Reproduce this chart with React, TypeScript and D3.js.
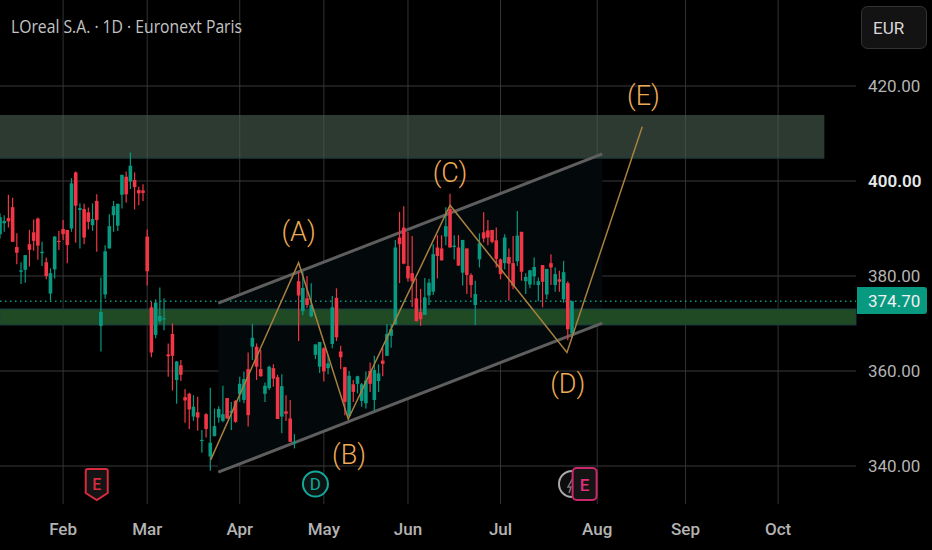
import { useEffect, useRef } from "react";
import * as d3 from "d3";

// daily candles
const opens = [
  388.8, 391.1, 392.2, 394.5, 386.1, 380.9, 381.3, 386.7, 389.2, 392.1,
  384.8, 382.9, 376.3, 381.4, 387.4, 389.9, 389.7, 390.0, 401.8, 393.9,
  394.1, 393.4, 390.7, 395.8, 369.5, 376.1, 385.8, 392.8, 390.6, 397.1,
  400.9, 399.9, 400.2, 398.1, 398.0, 388.3, 373.4, 367.6, 370.5, 370.9,
  363.5, 367.8, 358.1, 361.2, 354.5, 355.2, 350.4, 351.3, 345.3, 350.9,
  342.0, 346.3, 350.2, 349.5, 354.3, 351.2, 353.7, 355.1, 353.9, 360.4,
  365.1, 365.1, 360.4, 355.2, 356.4, 360.6, 358.7, 350.4, 351.5, 350.0,
  344.8, 378.9, 372.6, 375.3, 371.5, 363.4, 360.9, 364.8, 360.6, 365.7,
  375.4, 364.1, 360.8, 350.5, 357.2, 357.3, 353.7, 353.2, 360.0, 353.9,
  357.9, 362.2, 363.2, 367.4, 369.8, 388.1, 390.2, 382.1, 380.6, 375.3,
  372.4, 371.8, 375.9, 376.7, 386.0, 385.8, 388.3, 394.1, 386.1, 386.0,
  380.7, 385.8, 380.2, 373.9, 383.5, 389.2, 389.6, 389.7, 387.5, 383.5,
  382.7, 384.0, 382.7, 383.1, 389.3, 378.9, 378.2, 379.9, 378.1, 382.3,
  376.1, 382.7, 378.1, 379.3, 375.1, 378.5, 367.9,
];
const closes = [
  392.4, 391.6, 391.5, 387.2, 384.9, 381.2, 384.4, 385.5, 387.4, 386.4,
  385.1, 380.0, 380.6, 388.3, 387.2, 388.8, 386.5, 399.5, 394.8, 394.3,
  388.1, 391.4, 392.0, 391.8, 372.4, 385.2, 390.5, 394.7, 395.2, 401.3,
  397.2, 403.2, 398.7, 397.4, 397.5, 381.0, 363.9, 374.4, 371.6, 371.1,
  363.1, 363.2, 362.0, 359.2, 353.8, 351.9, 352.5, 350.2, 345.5, 347.8,
  344.9, 348.4, 352.0, 350.9, 350.0, 351.6, 349.3, 357.3, 358.3, 350.7,
  367.0, 360.9, 358.9, 356.9, 360.9, 358.4, 349.9, 356.8, 351.0, 345.1,
  345.1, 375.9, 377.5, 373.9, 373.9, 365.6, 366.1, 359.9, 361.6, 373.4,
  367.1, 362.9, 353.5, 359.0, 355.6, 358.9, 357.2, 358.0, 357.3, 360.2,
  359.5, 361.5, 367.8, 368.8, 386.0, 386.7, 382.6, 379.5, 378.9, 370.5,
  370.9, 375.5, 378.6, 384.6, 384.2, 383.3, 390.5, 386.0, 386.4, 382.2,
  387.6, 380.2, 378.1, 376.2, 386.9, 387.9, 388.1, 387.2, 383.6, 380.4,
  388.1, 382.6, 377.9, 388.5, 380.9, 379.8, 381.2, 381.9, 378.9, 378.8,
  381.5, 381.8, 380.4, 378.8, 380.8, 368.8, 374.7,
];
const highs = [
  393.2, 392.8, 397.1, 396.5, 389.0, 382.9, 384.4, 389.7, 391.9, 392.3,
  387.2, 383.9, 381.6, 388.4, 389.5, 391.8, 389.7, 400.6, 402.0, 395.3,
  395.2, 394.4, 395.3, 397.2, 379.7, 386.5, 393.0, 395.8, 395.2, 401.3,
  402.0, 406.0, 401.8, 398.8, 399.3, 389.8, 374.6, 375.1, 377.6, 375.3,
  365.8, 370.0, 362.1, 362.3, 356.2, 355.4, 354.9, 354.6, 347.6, 351.1,
  356.5, 352.1, 352.6, 356.9, 354.3, 353.5, 353.9, 358.8, 359.9, 363.9,
  369.9, 365.8, 364.4, 357.6, 361.1, 361.4, 359.2, 359.3, 354.9, 353.9,
  346.7, 380.9, 380.9, 380.0, 378.5, 365.6, 366.1, 365.0, 363.4, 375.8,
  377.4, 365.3, 360.9, 360.0, 358.1, 359.0, 357.5, 359.9, 361.8, 363.2,
  361.4, 365.0, 369.9, 369.9, 387.6, 393.5, 394.7, 389.3, 388.4, 379.5,
  377.3, 379.6, 379.4, 386.7, 388.6, 388.6, 394.5, 397.3, 388.6, 388.6,
  387.6, 385.8, 380.6, 379.0, 389.0, 393.4, 391.8, 389.7, 390.2, 383.7,
  388.8, 385.8, 388.4, 393.7, 389.3, 380.6, 381.3, 383.9, 379.7, 382.3,
  381.5, 384.6, 381.8, 381.1, 383.2, 378.9, 374.8,
];
const lows = [
  387.9, 389.3, 390.2, 387.2, 382.5, 378.3, 378.6, 382.0, 385.3, 383.4,
  382.1, 379.3, 374.8, 379.5, 385.5, 387.6, 382.7, 389.3, 387.0, 385.8,
  386.7, 389.8, 389.5, 385.1, 364.1, 375.2, 385.8, 389.3, 389.5, 394.2,
  395.4, 398.3, 394.0, 394.9, 395.8, 378.0, 362.9, 366.9, 370.0, 368.6,
  358.8, 355.9, 353.1, 357.9, 349.1, 347.8, 349.5, 347.4, 342.8, 346.0,
  339.0, 346.2, 349.1, 349.2, 349.9, 347.6, 349.1, 353.5, 353.2, 348.3,
  362.3, 358.1, 358.8, 353.5, 356.0, 356.7, 349.9, 346.9, 349.5, 345.1,
  343.7, 366.3, 371.8, 373.3, 371.3, 362.5, 359.6, 357.8, 359.3, 364.8,
  366.3, 360.4, 350.7, 350.4, 353.5, 355.3, 352.5, 352.1, 355.6, 351.6,
  355.6, 358.9, 363.2, 364.9, 369.7, 378.5, 382.5, 378.8, 373.5, 370.4,
  369.5, 371.8, 373.9, 376.0, 379.5, 383.2, 386.5, 386.0, 383.5, 382.1,
  378.0, 376.2, 375.4, 369.7, 381.8, 387.1, 386.5, 386.9, 381.8, 379.3,
  381.4, 374.8, 377.2, 382.1, 379.0, 376.2, 377.4, 378.1, 374.7, 373.4,
  375.1, 378.1, 376.7, 376.7, 374.4, 366.5, 367.0,
];

const priceTicks = [340, 360, 380, 400, 420];
const monthLabels = ["Feb", "Mar", "Apr", "May", "Jun", "Jul", "Aug", "Sep", "Oct"];
const monthBars = [15, 35, 57, 77, 97, 119, 142, 163, 185];
const lastPrice = 374.7;

// hand drawn things on the chart, in bar index / price
const waveBars = [50.1, 71, 82.8, 107, 134.8, 152.7];
const wavePrices = [341.3, 382.8, 349.9, 394.9, 363.9, 411.4];
const waveLabels = ["(A)", "(B)", "(C)", "(D)", "(E)"];
const waveLabelBars = [71, 83, 107, 135, 153];
const waveLabelPrices = [387.3, 340.4, 399.7, 355.4, 416];
const channelBars = [51.9, 143.2];
const channelUpper = [374.3, 405.7];
const channelLower = [338.7, 370.1];
const resistanceZone = [404.8, 413.9];
const supportZone = [369.7, 373.05];
const resistanceEndBar = 196;

const GREEN = "#089981";
const RED = "#f23645";
const FONT = "Roboto, sans-serif";

const App = () => {
  const ref = useRef<SVGSVGElement | null>(null);

  useEffect(() => {
    const svg = d3.select(ref.current);
    svg.selectAll("*").remove();

    const plotRight = 856;
    const x = d3.scaleLinear().domain([0, 136]).range([0, 572]);
    const y = d3.scaleLinear().domain([340, 420]).range([466, 86]);

    svg.append("rect").attr("width", 932).attr("height", 550).attr("fill", "#000");

    // grid
    svg
      .selectAll(".vgrid")
      .data(monthBars)
      .enter()
      .append("line")
      .attr("x1", (d) => x(d))
      .attr("x2", (d) => x(d))
      .attr("y1", 0)
      .attr("y2", 504)
      .attr("stroke", "#333")
      .attr("stroke-width", 1);
    svg
      .selectAll(".hgrid")
      .data(priceTicks)
      .enter()
      .append("line")
      .attr("x1", 0)
      .attr("x2", plotRight)
      .attr("y1", (d) => y(d))
      .attr("y2", (d) => y(d))
      .attr("stroke", "#3a3a3a")
      .attr("stroke-width", 1);

    // channel fill
    svg
      .append("path")
      .attr(
        "d",
        d3.line()([
          [x(channelBars[0]), y(channelUpper[0])],
          [x(channelBars[1]), y(channelUpper[1])],
          [x(channelBars[1]), y(channelLower[1])],
          [x(channelBars[0]), y(channelLower[0])],
        ]) + "Z"
      )
      .attr("fill", "#03080b");

    // zones
    svg
      .append("rect")
      .attr("x", 0)
      .attr("width", x(resistanceEndBar))
      .attr("y", y(resistanceZone[1]))
      .attr("height", y(resistanceZone[0]) - y(resistanceZone[1]))
      .attr("fill", "#4a6051")
      .attr("fill-opacity", 0.6);
    svg
      .append("line")
      .attr("x1", 0)
      .attr("x2", x(resistanceEndBar))
      .attr("y1", y(resistanceZone[0]))
      .attr("y2", y(resistanceZone[0]))
      .attr("stroke", "#1c3a3e");
    svg
      .append("rect")
      .attr("x", 0)
      .attr("width", plotRight)
      .attr("y", y(supportZone[1]))
      .attr("height", y(supportZone[0]) - y(supportZone[1]))
      .attr("fill", "#204a24")
      .attr("stroke", "#1c3f44");

    // last price line
    svg
      .append("line")
      .attr("x1", 0)
      .attr("x2", plotRight)
      .attr("y1", y(lastPrice))
      .attr("y2", y(lastPrice))
      .attr("stroke", GREEN)
      .attr("stroke-width", 1.5)
      .attr("stroke-dasharray", "1.5 3.5");

    // channel lines
    [channelUpper, channelLower].forEach((prices) => {
      svg
        .append("line")
        .attr("x1", x(channelBars[0]))
        .attr("x2", x(channelBars[1]))
        .attr("y1", y(prices[0]))
        .attr("y2", y(prices[1]))
        .attr("stroke", "#5e5e5e")
        .attr("stroke-width", 3);
    });

    // candles
    const bars = svg
      .selectAll(".bar")
      .data(d3.range(opens.length))
      .enter()
      .append("g")
      .attr("fill", (i) => (closes[i] >= opens[i] ? GREEN : RED))
      .attr("stroke", (i) => (closes[i] >= opens[i] ? GREEN : RED));
    bars
      .append("line")
      .attr("x1", (i) => x(i))
      .attr("x2", (i) => x(i))
      .attr("y1", (i) => y(highs[i]))
      .attr("y2", (i) => y(lows[i]))
      .attr("stroke-width", 1.2);
    bars
      .append("rect")
      .attr("x", (i) => x(i) - 1.8)
      .attr("width", 3.6)
      .attr("y", (i) => y(Math.max(opens[i], closes[i])))
      .attr("height", (i) => Math.max(1.2, Math.abs(y(opens[i]) - y(closes[i]))))
      .attr("stroke", "none");

    // wave path
    const wave = d3
      .line<number>()
      .x((i) => x(waveBars[i]))
      .y((i) => y(wavePrices[i]));
    svg
      .append("path")
      .attr("d", wave(d3.range(waveBars.length)))
      .attr("fill", "none")
      .attr("stroke", "#a9803f")
      .attr("stroke-width", 1.5);

    svg
      .selectAll(".wavelabel")
      .data(waveLabels)
      .enter()
      .append("text")
      .attr("x", (d, i) => x(waveLabelBars[i]))
      .attr("y", (d, i) => y(waveLabelPrices[i]))
      .attr("text-anchor", "middle")
      .attr("font-family", FONT)
      .attr("font-weight", 300)
      .attr("font-size", 27)
      .attr("fill", "#eeaa55")
      .text((d) => d);

    // axes text
    svg
      .selectAll(".ptick")
      .data(priceTicks)
      .enter()
      .append("text")
      .attr("x", 868)
      .attr("y", (d) => y(d) + 6)
      .attr("font-family", FONT)
      .attr("font-size", 17)
      .attr("font-weight", (d) => (d === 400 ? 600 : 400))
      .attr("fill", (d) => (d === 400 ? "#e8e8e8" : "#b4b4b4"))
      .text((d) => d.toFixed(2));
    svg
      .selectAll(".mtick")
      .data(monthLabels)
      .enter()
      .append("text")
      .attr("x", (d, i) => x(monthBars[i]))
      .attr("y", 535)
      .attr("text-anchor", "middle")
      .attr("font-family", FONT)
      .attr("font-size", 17)
      .attr("font-weight", 500)
      .attr("fill", "#b4b4b4")
      .text((d) => d);

    // last price tag
    svg
      .append("path")
      .attr("d", `M857,287 H924 Q927,287 927,290 V311 Q927,314 924,314 H857 Z`)
      .attr("fill", GREEN);
    svg
      .append("text")
      .attr("x", 868)
      .attr("y", y(lastPrice) + 6)
      .attr("font-family", FONT)
      .attr("font-size", 17)
      .attr("fill", "#f0f0f0")
      .text(lastPrice.toFixed(2));

    // currency box
    svg
      .append("rect")
      .attr("x", 861.5)
      .attr("y", 6.5)
      .attr("width", 65)
      .attr("height", 42)
      .attr("rx", 6)
      .attr("fill", "#131313")
      .attr("stroke", "#333");
    svg
      .append("text")
      .attr("x", 873)
      .attr("y", 34)
      .attr("font-family", FONT)
      .attr("font-size", 17)
      .attr("fill", "#d8d8d8")
      .text("EUR");

    // title
    svg
      .append("text")
      .attr("x", 11)
      .attr("y", 33)
      .attr("font-family", "'Open Sans', sans-serif")
      .attr("font-size", 18)
      .attr("textLength", 231)
      .attr("lengthAdjust", "spacingAndGlyphs")
      .attr("fill", "#c4c4c4")
      .text("LOreal S.A. · 1D · Euronext Paris");

    // event markers under the candles
    const earnings = svg.append("g").attr("transform", `translate(${x(23)},484)`);
    earnings
      .append("path")
      .attr("d", "M-11,-13 Q-11,-15 -9,-15 H9 Q11,-15 11,-13 V9 L0,16 L-11,9 Z")
      .attr("fill", "#141414")
      .attr("stroke", "#d92b3e")
      .attr("stroke-width", 2);
    earnings
      .append("text")
      .attr("y", 6)
      .attr("text-anchor", "middle")
      .attr("font-family", FONT)
      .attr("font-size", 16)
      .attr("font-weight", 500)
      .attr("fill", "#d92b3e")
      .text("E");

    const dividend = svg.append("g").attr("transform", `translate(${x(75)},484)`);
    dividend
      .append("circle")
      .attr("r", 12.5)
      .attr("fill", "#0c1413")
      .attr("stroke", "#14a89a")
      .attr("stroke-width", 2);
    dividend
      .append("text")
      .attr("y", 6)
      .attr("text-anchor", "middle")
      .attr("font-family", FONT)
      .attr("font-size", 17)
      .attr("fill", "#14a89a")
      .text("D");

    const split = svg.append("g").attr("transform", `translate(${x(136)},484)`);
    split
      .append("circle")
      .attr("r", 13)
      .attr("fill", "#0c0c0c")
      .attr("stroke", "#a8a8a8")
      .attr("stroke-width", 2);
    split
      .append("path")
      .attr("d", "M2,-8 L-4,3 L-1,3 L-3,9")
      .attr("fill", "none")
      .attr("stroke", "#777")
      .attr("stroke-width", 1.5);
    const nextEarnings = svg.append("g").attr("transform", `translate(${x(139)},484)`);
    nextEarnings
      .append("rect")
      .attr("x", -12)
      .attr("y", -16)
      .attr("width", 24)
      .attr("height", 32)
      .attr("rx", 4)
      .attr("fill", "#141414")
      .attr("stroke", "#c9286a")
      .attr("stroke-width", 2);
    nextEarnings
      .append("text")
      .attr("y", 6.5)
      .attr("text-anchor", "middle")
      .attr("font-family", FONT)
      .attr("font-size", 17)
      .attr("font-weight", 500)
      .attr("fill", "#e0307a")
      .text("E");
  }, []);

  return (
    <svg
      ref={ref}
      width={932}
      height={550}
      style={{ position: "absolute", left: 0, top: 0 }}
    />
  );
};

export default App;
